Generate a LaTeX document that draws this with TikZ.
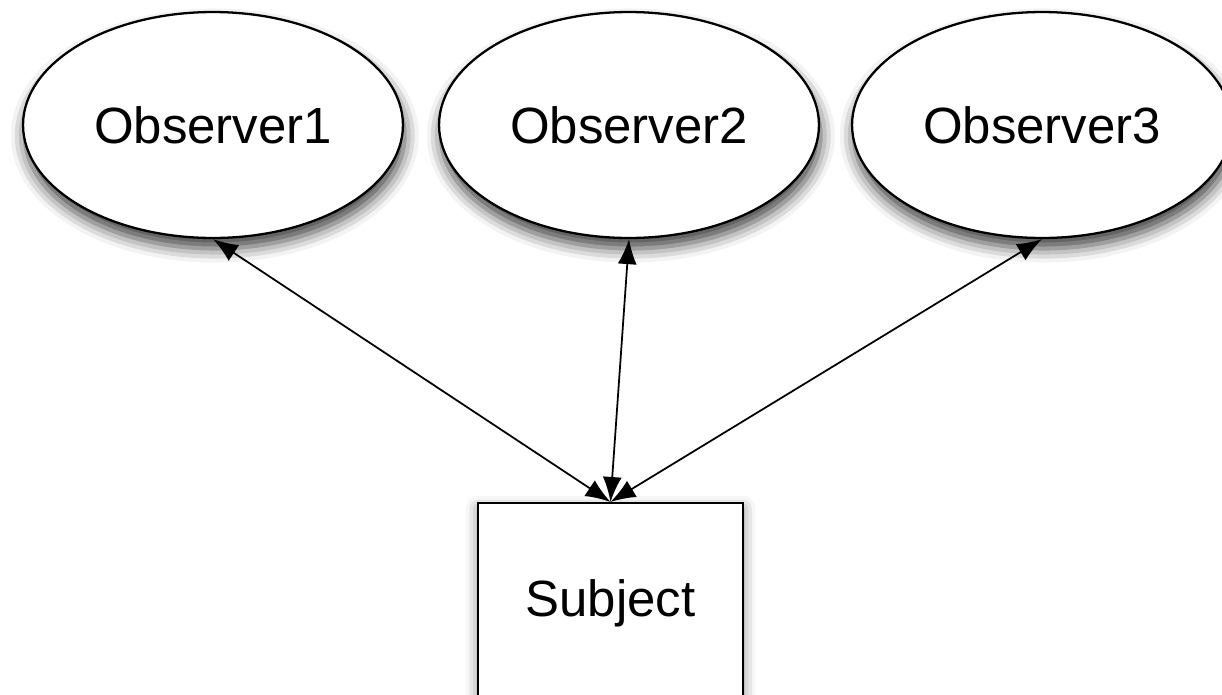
\documentclass[tikz,border=0pt]{standalone}
\usepackage{fontspec}
\setmainfont{Liberation Sans}
\usetikzlibrary{shapes.geometric,arrows.meta,shadows.blur}

\begin{document}
\begin{tikzpicture}[x=0.02cm,y=-0.02cm,
   observer/.style={draw,ellipse,fill=white,line width=1.3pt,
      minimum width=7.6cm,minimum height=4.52cm,
      blur shadow={shadow xshift=1pt,shadow yshift=-6pt,shadow blur radius=8pt,shadow opacity=75}},
   subject/.style={draw,rectangle,fill=white,line width=1.2pt,
      minimum width=5.3cm,minimum height=4cm,
      blur shadow={shadow xshift=0pt,shadow yshift=-3pt,shadow blur radius=7pt,shadow opacity=50}},
   link/.style={{Latex[length=5mm,width=3.8mm]}-{Latex[length=5mm,width=3.8mm]},line width=1pt},
   font=\fontsize{29}{34}\selectfont]

\useasboundingbox (0,0) rectangle (1222,694);

\node[observer] (obs1) at (213,125) {Observer1};
\node[observer] (obs2) at (629,125) {Observer2};
\node[observer] (obs3) at (1042,125) {Observer3};
\node[subject] (subj) at (610.5,603) {Subject};

\draw[link] (obs1.south) -- (subj.north);
\draw[link] (obs2.south) -- (subj.north);
\draw[link] (obs3.south) -- (subj.north);

\end{tikzpicture}
\end{document}
